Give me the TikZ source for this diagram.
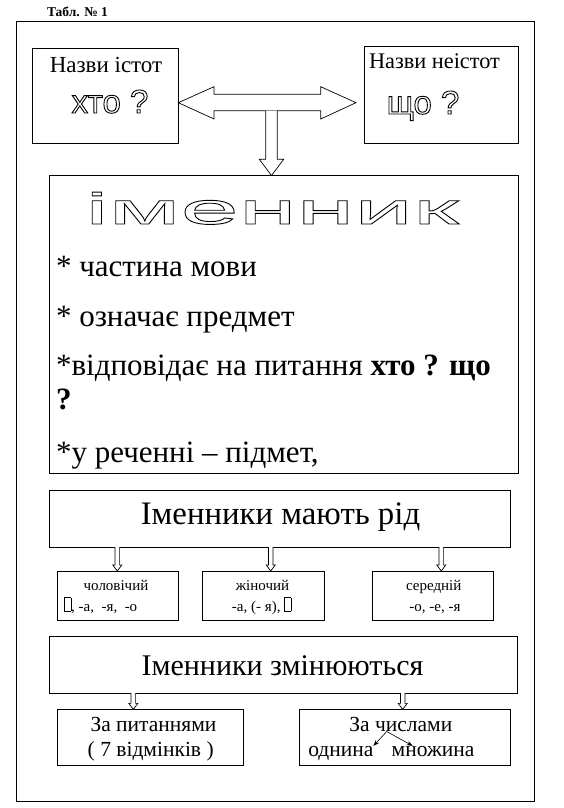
\documentclass[tikz,border=0pt]{standalone}
\usepackage{fontspec}
\setmainfont{Liberation Serif}
\newfontfamily\sansf{Liberation Sans}
\newfontfamily\widesans[FakeStretch=2.38]{Liberation Sans}
\usetikzlibrary{arrows.meta,calc}
\newcommand\outl[1]{\special{pdf:literal direct 1 Tr 0.9 w}#1\special{pdf:literal direct 0 Tr}}
\newcommand\missingglyph{{\fboxsep=0pt\fboxrule=0.6pt\fbox{\rule{0pt}{13pt}\hspace{6pt}}}}
\newcommand\hollowdown[2]{\draw[blockarrow] let \p1=#1, \p2=#2 in
  (\x1-2.3pt,\y1) -- (\x1-2.3pt,\y2+6pt) -- (\x1-4.5pt,\y2+6pt) -- (\x1,\y2)
  -- (\x1+4.5pt,\y2+6pt) -- (\x1+2.3pt,\y2+6pt) -- (\x1+2.3pt,\y1);}
\begin{document}
\begin{tikzpicture}[x=1pt,y=-1pt,
  box/.style={draw, line width=0.8pt, inner sep=0pt, outer sep=0pt},
  txt/.style={inner sep=0pt, outer sep=0pt},
  blockarrow/.style={draw, line width=0.7pt, fill=white},
  mainfs/.style={font=\fontsize{31}{31}\selectfont},
  smallfs/.style={font=\fontsize{15}{15}\selectfont},
  lowfs/.style={font=\fontsize{21.5}{21.5}\selectfont},
  forkarrow/.style={-{Stealth[length=6pt,width=4.5pt]}, line width=0.6pt}]
\useasboundingbox (0,0) rectangle (563,808);
\fill[white] (0,0) rectangle (563,808);

% frame and title
\node[box, minimum width=518, minimum height=779.7] (frame) at (275,411.15) {};
\node[txt, anchor=base west, font=\bfseries\fontsize{13.5}{13.5}\selectfont] (title) at (47,17) {Табл. № 1};

% top boxes
\node[box, minimum width=146, minimum height=95] (alive) at (105.3,95.8) {};
\node[box, minimum width=153.6, minimum height=96.6] (inanim) at (441.5,95) {};
\node[txt, anchor=base, font=\fontsize{23}{23}\selectfont] (aliveT) at (106,73) {Назви істот};
\node[txt, anchor=base, font=\sansf\fontsize{33}{33}\selectfont] (aliveQ) at (110,113) {\outl{хто ?}};
\node[txt, anchor=base, font=\fontsize{22.3}{22.3}\selectfont] (inanimT) at (434.5,68) {Назви неістот};
\node[txt, anchor=base, font=\sansf\fontsize{33}{33}\selectfont] (inanimQ) at (423,114) {\outl{що ?}};

% main box
\node[box, minimum width=469, minimum height=297.5] (noun) at (283.8,324.3) {};
\node[txt, anchor=base, font=\widesans\fontsize{44}{44}\selectfont] (nounT) at (272,224) {\outl{іменник}};
\node[txt, anchor=base west, mainfs] (l1) at (56,276) {* частина мови};
\node[txt, anchor=base west, mainfs] (l2) at (56,326) {* означає предмет};
\node[txt, anchor=base west, mainfs] (l3) at (56,375) {*відповідає на питання \textbf{хто ? що}};
\node[txt, anchor=base west, mainfs] (l4) at (56,409) {\textbf{?}};
\node[txt, anchor=base west, mainfs] (l5) at (56,462) {*у реченні – підмет,};

% double arrow and down arrow
\coordinate (dl) at (alive.east |- 0,102.7);
\coordinate (dr) at (356,102.7);
\draw[blockarrow] (dl) -- (214,86.7) -- (214,94.3) -- (320.7,94.3) -- (320.7,86.7)
  -- (dr) -- (320.7,119) -- (320.7,110.7) -- (214,110.7) -- (214,119) -- cycle;
\coordinate (dtip) at (271.5,0 |- noun.north);
\draw[blockarrow] (265.7,110.7) -- (265.7,159.3) -- (259.3,159.3) -- (dtip)
  -- (283.7,159.3) -- (277.3,159.3) -- (277.3,110.7);

% gender
\node[box, minimum width=461, minimum height=56.5] (gender) at (279.8,518.8) {};
\node[txt, anchor=base, font=\fontsize{32.8}{32.8}\selectfont] (genderT) at (280.5,524) {Іменники мають рід};
\node[box, minimum width=121, minimum height=49] (masc) at (117.8,595.5) {};
\node[box, minimum width=122, minimum height=49] (fem) at (263.3,595.5) {};
\node[box, minimum width=120.7, minimum height=49] (neut) at (432.7,595.5) {};
\node[txt, anchor=base, smallfs] (mascA) at (116,590) {чоловічий};
\node[txt, anchor=base west, smallfs] (mascB) at (64,611) {\missingglyph, -а,\ \ -я,\ \ -о};
\node[txt, anchor=base, smallfs] (femA) at (262.5,590) {жіночий};
\node[txt, anchor=base, smallfs] (femB) at (261.7,611) {-а, (- я), \missingglyph};
\node[txt, anchor=base, smallfs] (neutA) at (433.7,590) {середній};
\node[txt, anchor=base, smallfs] (neutB) at (435,611) {-о, -е, -я};
\hollowdown{(117.3,0 |- gender.south)}{(117.3,0 |- masc.north)}
\hollowdown{(270.7,0 |- gender.south)}{(270.7,0 |- fem.north)}
\hollowdown{(441.3,0 |- gender.south)}{(441.3,0 |- neut.north)}

% change
\node[box, minimum width=468.4, minimum height=57] (change) at (283.5,664.5) {};
\node[txt, anchor=base, font=\fontsize{30}{30}\selectfont] (changeT) at (282.5,675) {Іменники змінюються};
\node[box, minimum width=186, minimum height=55.7] (cases) at (150.3,737.2) {};
\node[box, minimum width=211.4, minimum height=55.7] (numbers) at (405,737.2) {};
\node[txt, anchor=base, lowfs] (casesA) at (153.5,731.5) {За питаннями};
\node[txt, anchor=base, lowfs] (casesB) at (150.7,756) {( 7 відмінків )};
\node[txt, anchor=base, lowfs] (numA) at (400.8,731) {За числами};
\node[txt, anchor=base west, lowfs] (sing) at (308.3,756) {однина};
\node[txt, anchor=base west, lowfs] (plur) at (391.7,756) {множина};
\hollowdown{(133.3,0 |- change.south)}{(133.3,0 |- cases.north)}
\hollowdown{(402.7,0 |- change.south)}{(402.7,0 |- numbers.north)}
\coordinate (fork) at (386.7,731.5);
\draw[forkarrow] (fork) -- (sing.north east);
\draw[forkarrow] (fork) -- (412.7,0 |- sing.north east);
\end{tikzpicture}
\end{document}
